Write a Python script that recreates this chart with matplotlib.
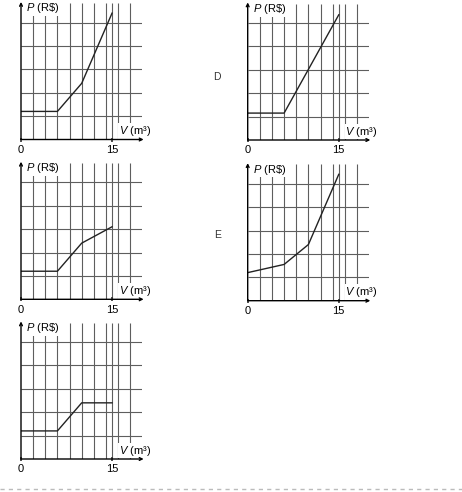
import matplotlib.pyplot as plt
from matplotlib.lines import Line2D

plt.rcParams['font.family'] = 'Liberation Sans'
plt.rcParams['mathtext.fontset'] = 'custom'
plt.rcParams['mathtext.rm'] = 'Liberation Sans'
plt.rcParams['mathtext.it'] = 'Liberation Sans:italic'

# volume (m3) break points and price (grid units) of each option
v_a = [0, 6, 10, 15]
p_a = [1.2, 1.2, 2.4, 5.4]
v_d = [0, 6, 15]
p_d = [1.15, 1.15, 5.35]
v_b = [0, 6, 10, 15]
p_b = [1.2, 1.2, 2.4, 3.1]
v_e = [0, 6, 10, 15]
p_e = [1.2, 1.55, 2.4, 5.4]
v_c = [0, 6, 10, 15]
p_c = [1.2, 1.2, 2.4, 2.4]

grid_v = [2, 4, 6, 8, 10, 12, 14, 15, 16, 18]
grid_p = [1, 2, 3, 4, 5]
tick_v = [0, 15]
tick_labels = ['0', '15']

panels = [(v_a, p_a, ''), (v_d, p_d, 'D'), (v_b, p_b, ''), (v_e, p_e, 'E'), (v_c, p_c, '')]

W, H = 462, 492
# panel origins in pixels (x, y from top)
origins = [(21, 139.5), (247.7, 140), (21, 299.3), (247.7, 300.7), (21, 459)]
letter_pos = [None, (216.7, 77), None, (218, 235), None]
px_v, px_p = 6.07, 23.4
vmax, pmax = 20, 5.83

fig = plt.figure(figsize=(W / 100, H / 100), dpi=100)

for (v, p, letter), (ox, oy), lp in zip(panels, origins, letter_pos):
    ax = fig.add_axes([ox / W, (H - oy) / H, vmax * px_v / W, pmax * px_p / H])
    ax.set_xlim(0, vmax)
    ax.set_ylim(0, pmax)
    for s in ax.spines.values():
        s.set_visible(False)
    ax.vlines(grid_v, 0, pmax, color='#5e5e5e', lw=0.8, zorder=1)
    ax.hlines(grid_p, 0, vmax, color='#5e5e5e', lw=0.8, zorder=1)
    ax.plot(v, p, color='#222222', lw=1.0, zorder=4)

    ax.set_xticks(tick_v, tick_labels)
    ax.set_yticks([])
    ax.tick_params(axis='x', length=2.5, width=1.2, direction='inout', pad=2.5,
                   labelsize=8, color='#333333')
    ax.tick_params(axis='y', left=False, labelleft=False)

    arrow = dict(arrowstyle='->', lw=1.0, color='black', shrinkA=0, shrinkB=0,
                 mutation_scale=5)
    ax.annotate('', xy=(vmax + 0.2, 0), xytext=(0, 0), arrowprops=arrow,
                annotation_clip=False, zorder=5)
    ax.annotate('', xy=(0, pmax + 0.05), xytext=(0, 0), arrowprops=arrow,
                annotation_clip=False, zorder=5)

    box = dict(facecolor='white', edgecolor='none', pad=0.6)
    ax.text(0.9, 5.6, r'$P$ (R\$)', ha='left', va='center', fontsize=8,
            bbox=box, zorder=3)
    ax.text(16.1, 0.36, r'$V$ (m³)', ha='left', va='center', fontsize=8,
            bbox=box, zorder=3)

    if letter:
        fig.text(lp[0] / W, 1 - lp[1] / H, letter, ha='center', va='center',
                 fontsize=7.5, color='#333333')

fig.add_artist(Line2D([0, 1], [3 / H, 3 / H], transform=fig.transFigure,
                      color='#bbbbbb', lw=1, ls=(0, (3, 3))))

fig.savefig('out.png', dpi=100)
